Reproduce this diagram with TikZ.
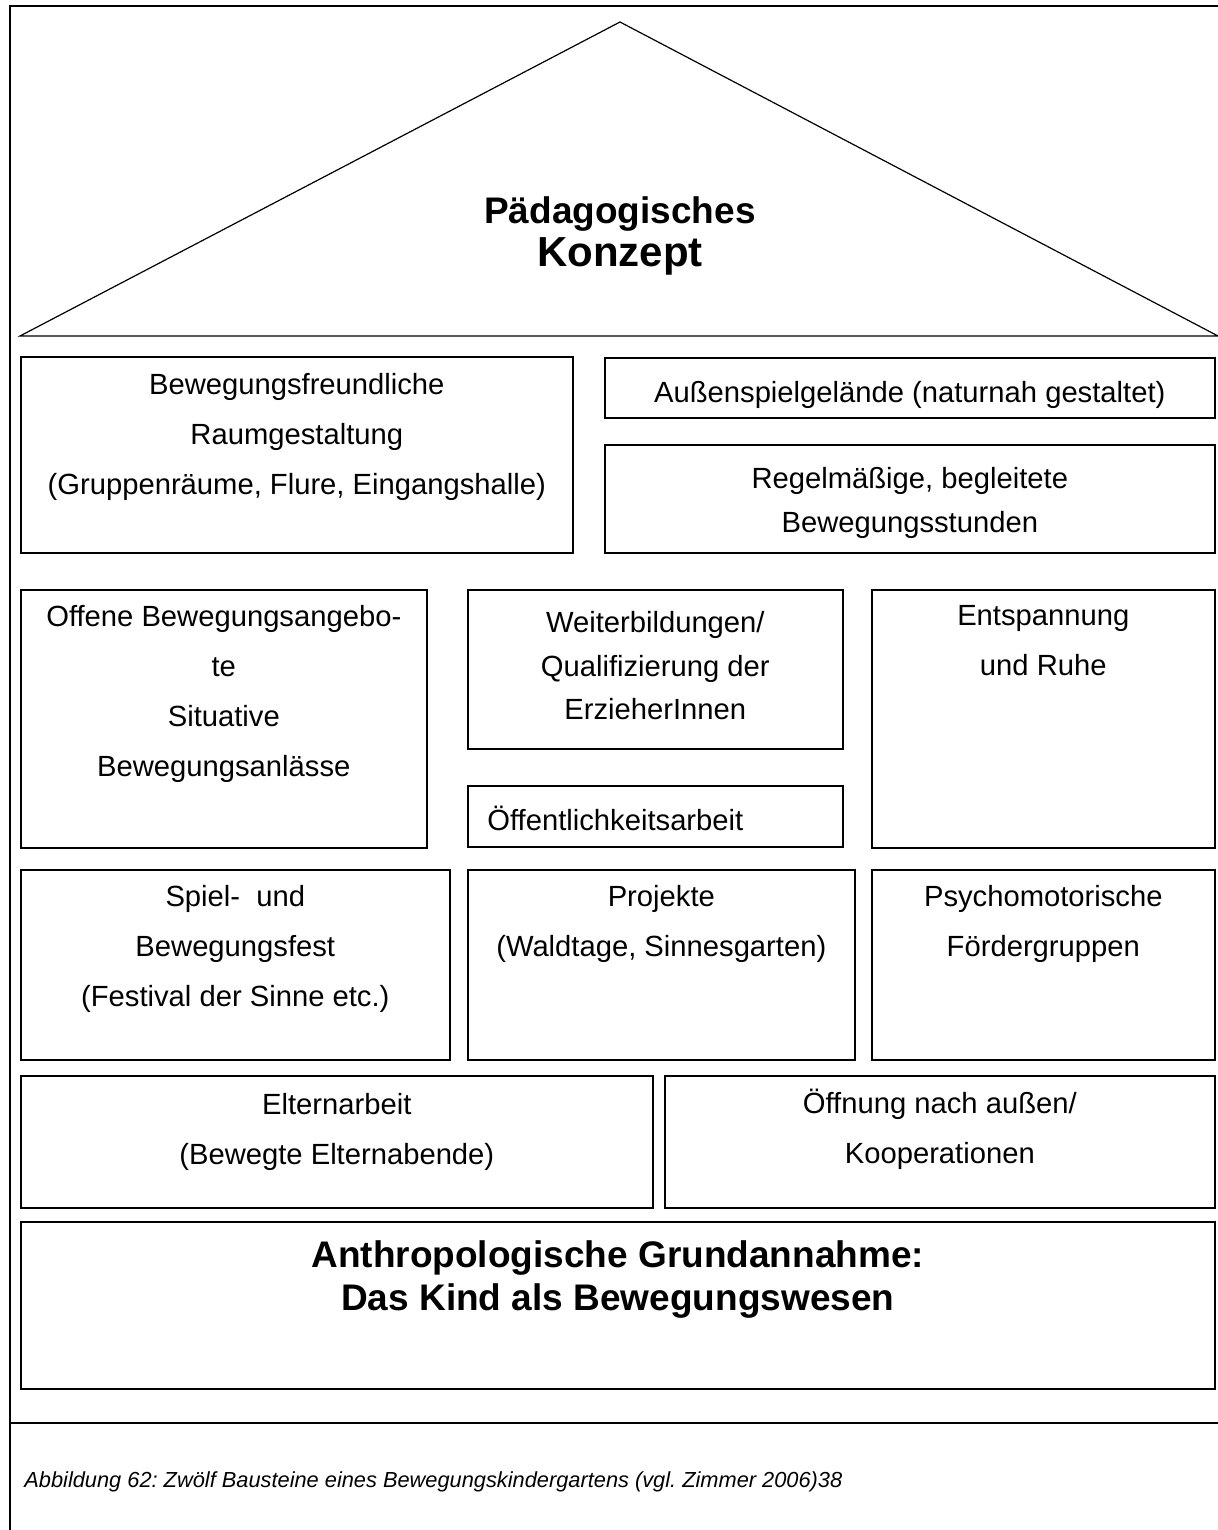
\documentclass[tikz,border=0pt]{standalone}
\usepackage{fontspec}
\setmainfont{Liberation Sans}
\usepackage{tikz}
\frenchspacing

\begin{document}
\begin{tikzpicture}[
  x=0.5pt, y=-0.5pt,
  rahmen/.style={line width=1pt},
  dach/.style={line width=0.6pt},
  baustein/.style={rectangle, draw, line width=0.8pt, anchor=north west, inner sep=0pt},
  txt/.style={align=center, inner sep=0pt, anchor=north, font=\fontsize{14.6}{25}\selectfont},
  eng/.style={txt, font=\fontsize{14.6}{21.75}\selectfont},
  fett/.style={align=center, inner sep=0pt, font=\fontsize{18.5}{21.5}\selectfont\bfseries},
]
  \useasboundingbox (0,0) rectangle (1218,1530);

  % Rahmen und Dach
  \draw[rahmen] (1218,6) -- (10,6) -- (10,1530);
  \draw[rahmen] (10,1423) -- (1218,1423);
  \coordinate (traufeL) at (20,336);
  \coordinate (first) at (620,22);
  \coordinate (traufeR) at (1218,336);
  \draw[dach] (traufeL) -- (first) -- (traufeR) -- cycle;
  \node[fett, anchor=base] (konzept1) at (620,224) {Pädagogisches};
  \node[fett, anchor=base, font=\fontsize{21}{21}\selectfont\bfseries] (konzept2) at (620,266) {Konzept};

  % Bausteine
  \node[baustein, minimum width=276pt, minimum height=98pt] (raum) at (20,356) {};
  \node[baustein, minimum width=305pt, minimum height=30pt] (aussen) at (604,357) {};
  \node[baustein, minimum width=305pt, minimum height=54pt] (stunden) at (604,444) {};
  \node[baustein, minimum width=203pt, minimum height=129pt] (offen) at (20,589) {};
  \node[baustein, minimum width=187.5pt, minimum height=79.5pt] (weiter) at (467,589) {};
  \node[baustein, minimum width=187.5pt, minimum height=30.5pt] (oeffentl) at (467,785) {};
  \node[baustein, minimum width=171.5pt, minimum height=129pt] (ruhe) at (871,589) {};
  \node[baustein, minimum width=214.5pt, minimum height=95pt] (fest) at (20,869) {};
  \node[baustein, minimum width=193.5pt, minimum height=95pt] (projekte) at (467,869) {};
  \node[baustein, minimum width=171.5pt, minimum height=95pt] (psycho) at (871,869) {};
  \node[baustein, minimum width=316pt, minimum height=66pt] (eltern) at (20,1075) {};
  \node[baustein, minimum width=275pt, minimum height=66pt] (koop) at (664,1075) {};
  \node[baustein, minimum width=597pt, minimum height=83.5pt] (grund) at (20,1221) {};

  % Beschriftungen
  \node[txt] (raumtxt) at ([yshift=-8.5pt]raum.north) {Bewegungsfreundliche\\Raumgestaltung\\(Gruppenräume, Flure, Eingangshalle)};
  \node[txt, anchor=base] (aussentxt) at ([yshift=-22.5pt]aussen.north) {Außenspielgelände (naturnah gestaltet)};
  \node[eng] (stundentxt) at ([yshift=-11.5pt]stunden.north) {Regelmäßige, begleitete\\Bewegungsstunden};
  \node[txt] (offentxt) at ([yshift=-8pt]offen.north) {Offene Bewegungsangebo-\\te\\Situative\\Bewegungsanlässe};
  \node[eng] (weitertxt) at ([yshift=-11pt]weiter.north) {Weiterbildungen/\\Qualifizierung der~\\ErzieherInnen};
  \node[txt, anchor=base west] (oeffentltxt) at ([xshift=10pt, yshift=-22.5pt]oeffentl.north west) {Öffentlichkeitsarbeit};
  \node[txt] (ruhetxt) at ([yshift=-8pt]ruhe.north) {Entspannung\\und Ruhe};
  \node[txt] (festtxt) at ([yshift=-8pt]fest.north) {Spiel-~ und\\Bewegungsfest\\(Festival der Sinne etc.)};
  \node[txt] (projektetxt) at ([yshift=-8pt]projekte.north) {Projekte\\(Waldtage, Sinnesgarten)};
  \node[txt] (psychotxt) at ([yshift=-8pt]psycho.north) {Psychomotorische\\Fördergruppen};
  \node[txt] (elterntxt) at ([yshift=-9pt]eltern.north) {Elternarbeit\\(Bewegte Elternabende)};
  \node[txt] (kooptxt) at ([yshift=-7pt]koop.north) {Öffnung nach außen/\\Kooperationen};
  \node[fett, anchor=north] (grundtxt) at ([yshift=-9.5pt]grund.north) {Anthropologische Grundannahme:\\Das Kind als Bewegungswesen};

  % Bildunterschrift
  \node[anchor=base west, inner sep=0pt, font=\fontsize{10.9}{13}\selectfont\itshape] (unterschrift) at (24,1487) {Abbildung 62: Zwölf Bausteine eines Bewegungskindergartens (vgl. Zimmer 2006)38};
\end{tikzpicture}
\end{document}
